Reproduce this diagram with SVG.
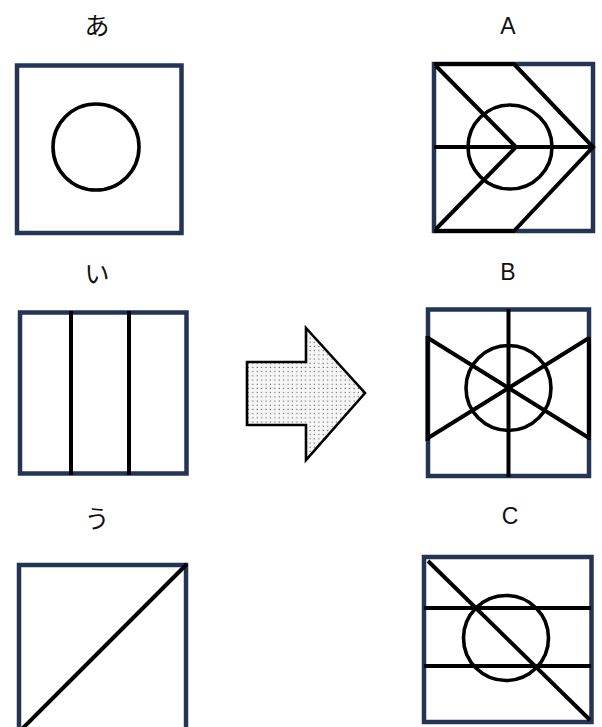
<svg xmlns="http://www.w3.org/2000/svg" width="602" height="727" viewBox="0 0 602 727">
<defs>
<pattern id="dots" x="0" y="0" width="4.4" height="4.2" patternUnits="userSpaceOnUse">
<rect width="4.4" height="4.2" fill="#f6f6f6"/>
<rect x="1.5" y="1.5" width="1.1" height="1.1" fill="#555"/>
</pattern>
</defs>
<style>
.box{fill:#fff;stroke:#243455;stroke-width:4.5}
.ln{stroke:#000;stroke-width:4;fill:none;stroke-linecap:butt}
.cir{stroke:#000;stroke-width:3.6;fill:none}
.kana{font-family:"Noto Sans CJK JP",sans-serif;font-size:25px;fill:#111;text-anchor:middle}
.lat{font-family:"Liberation Sans",Arial,sans-serif;font-size:23px;fill:#111;text-anchor:middle}
</style>
<rect width="602" height="727" fill="#fff"/>

<g id="node-a">
<text class="kana" x="97" y="35">あ</text>
<rect class="box" x="17" y="65.5" width="164.5" height="167.5"/>
<circle class="cir" cx="96" cy="147" r="43"/>
</g>

<g id="node-i">
<text class="kana" x="97" y="283">い</text>
<rect class="box" x="20" y="312.5" width="166.5" height="161"/>
<line class="ln" x1="71" y1="311" x2="71" y2="475"/>
<line class="ln" x1="129" y1="311" x2="129" y2="475"/>
</g>

<g id="node-u">
<text class="kana" x="97" y="528">う</text>
<rect class="box" x="19" y="565" width="167" height="170"/>
<line class="ln" x1="187" y1="564" x2="20" y2="731"/>
</g>

<g id="node-A">
<text class="lat" x="508" y="34">A</text>
<rect class="box" x="434" y="64" width="159" height="167"/>
<line class="ln" x1="434" y1="147" x2="593" y2="147"/>
<circle class="cir" cx="510" cy="147" r="42"/>
<polyline class="ln" points="436,66 516,147 436,229" stroke-linejoin="miter"/>
<polyline class="ln" points="514,64 593,147 514,231" stroke-linejoin="miter"/>
<line class="ln" x1="434" y1="64" x2="515" y2="64"/>
<line class="ln" x1="434" y1="231" x2="515" y2="231"/>
</g>

<g id="node-B">
<text class="lat" x="508" y="280">B</text>
<rect class="box" x="428" y="309.5" width="161" height="166.5"/>
<line class="ln" x1="508.5" y1="309" x2="508.5" y2="477"/>
<line class="ln" x1="428" y1="338" x2="589" y2="438"/>
<line class="ln" x1="428" y1="438" x2="589" y2="338"/>
<circle class="cir" cx="508.5" cy="388" r="42.5"/>
<line x1="427.5" y1="336" x2="427.5" y2="441" stroke="#000" stroke-width="4"/>
<line x1="589" y1="337" x2="589" y2="440" stroke="#000" stroke-width="4"/>
</g>

<g id="node-C">
<text class="lat" x="510" y="524">C</text>
<rect class="box" x="424" y="557" width="167.5" height="165"/>
<line class="ln" x1="424" y1="608" x2="591" y2="608"/>
<line class="ln" x1="424" y1="666" x2="591" y2="666"/>
<line class="ln" x1="428" y1="561" x2="590" y2="720"/>
<circle class="cir" cx="506" cy="638" r="42.5"/>
</g>

<g id="connectors">
<polygon points="247,362 306,362 306,328 365,393 306,460 306,425 247,425" fill="url(#dots)" stroke="#000" stroke-width="2.6" stroke-linejoin="miter"/>
</g>
</svg>
